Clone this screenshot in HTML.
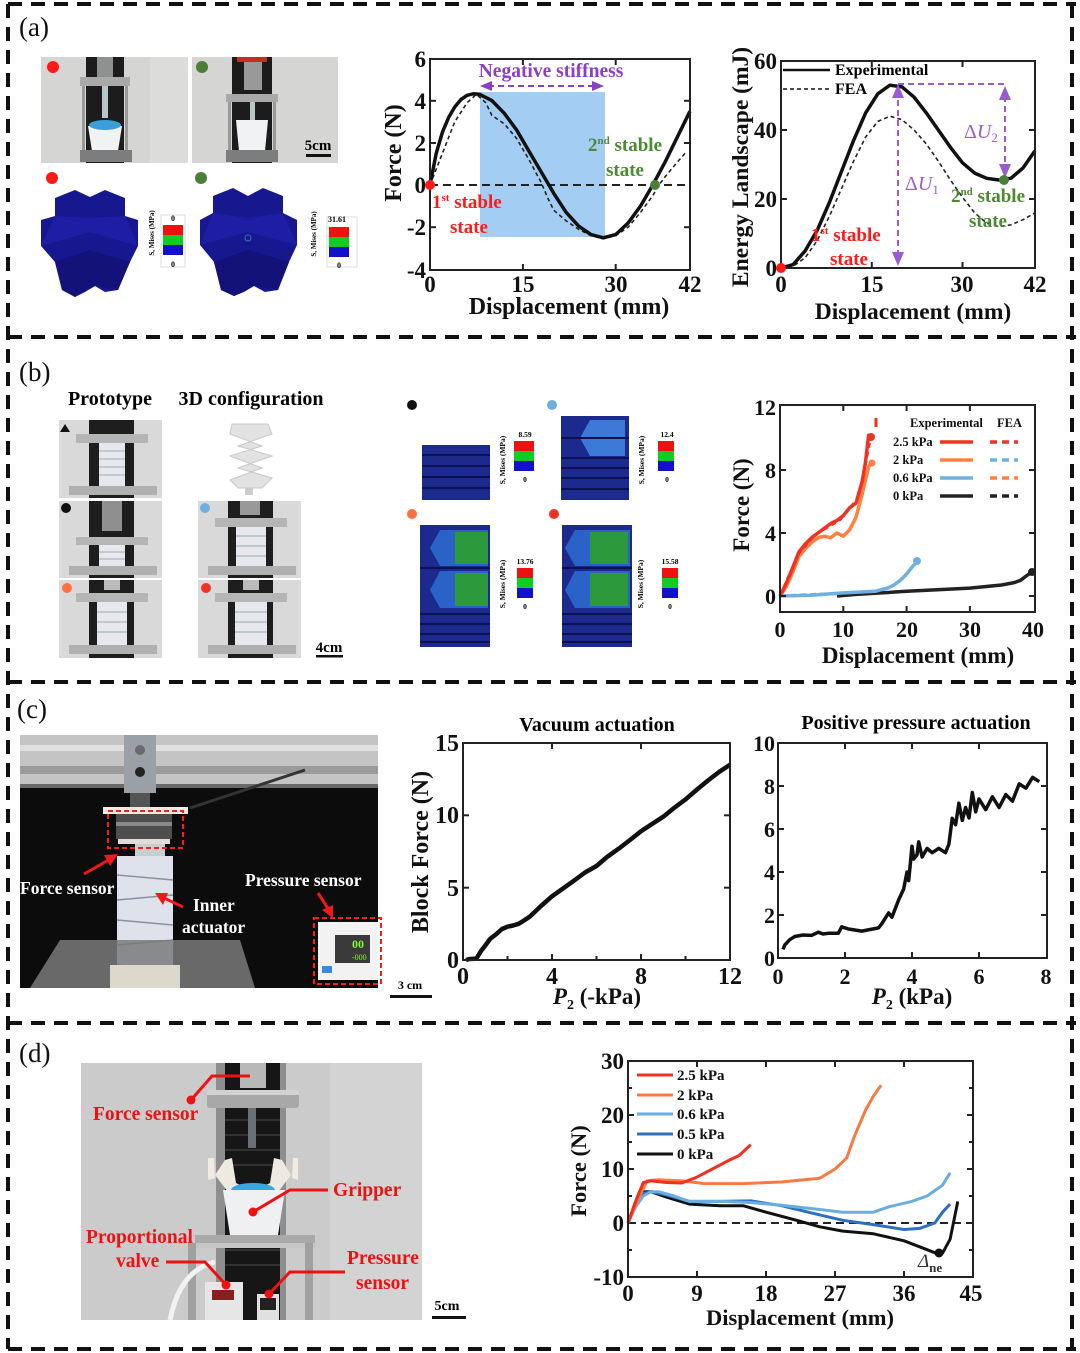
<!DOCTYPE html>
<html><head><meta charset="utf-8"><style>
html,body{margin:0;padding:0;background:#fff;}
svg{display:block;}
text{font-family:"Liberation Serif",serif;}
.b{font-weight:bold;}
</style></head><body>
<svg width="1080" height="1353" viewBox="0 0 1080 1353" xmlns="http://www.w3.org/2000/svg">
<rect width="1080" height="1353" fill="#fff"/>
<!-- dashed frame -->
<g stroke="#111" stroke-width="4" stroke-dasharray="14 9" fill="none">
<line x1="8" y1="4" x2="1076" y2="4"/>
<line x1="8" y1="337" x2="1076" y2="337"/>
<line x1="8" y1="682" x2="1076" y2="682"/>
<line x1="8" y1="1023" x2="1076" y2="1023"/>
<line x1="8" y1="1349" x2="1076" y2="1349"/>
<line x1="8" y1="4" x2="8" y2="1349"/>
<line x1="1072" y1="4" x2="1072" y2="1349"/>
</g>
<g font-size="27" fill="#111">
<text x="19" y="36">(a)</text>
<text x="19" y="381">(b)</text>
<text x="17" y="718">(c)</text>
<text x="19" y="1062">(d)</text>
</g>

<!-- ===== PANEL A photos ===== -->
<rect x="41" y="57" width="147" height="106" fill="#d5d5d3"/>
<rect x="150" y="57" width="38" height="106" fill="#dcdcda"/>
<rect x="86" y="57" width="38" height="106" fill="#1c1c1c"/>
<rect x="97" y="57" width="16" height="20" fill="#8f9090"/>
<rect x="80" y="77" width="50" height="9" fill="#a9a9a9"/>
<rect x="102" y="86" width="6" height="32" fill="#b8c4c8"/>
<polygon points="88,126 122,126 118,151 92,151" fill="#f0f2f4"/>
<ellipse cx="105" cy="125" rx="16" ry="5" fill="#3a9fd8"/>
<rect x="80" y="150" width="52" height="12" fill="#7d7d7d"/>
<rect x="82" y="86" width="3" height="64" fill="#999"/><rect x="125" y="86" width="3" height="64" fill="#999"/>
<circle cx="53" cy="67" r="6" fill="#ff1a1a"/>

<rect x="192" y="57" width="146" height="106" fill="#d5d5d3"/>
<rect x="232" y="57" width="40" height="106" fill="#1c1c1c"/>
<rect x="237" y="57" width="30" height="5" fill="#c03020"/>
<rect x="244" y="62" width="18" height="28" fill="#999"/>
<rect x="226" y="94" width="52" height="8" fill="#a9a9a9"/>
<rect x="250" y="102" width="5" height="18" fill="#b8c4c8"/>
<polygon points="236,120 268,120 265,151 239,151" fill="#f0f2f4"/>
<rect x="226" y="150" width="52" height="12" fill="#7d7d7d"/>
<rect x="228" y="102" width="3" height="48" fill="#999"/><rect x="273" y="102" width="3" height="48" fill="#999"/>
<circle cx="202" cy="67" r="6" fill="#4a7f38"/>
<text x="318" y="150" class="b" font-size="15" text-anchor="middle">5cm</text>
<rect x="306" y="154" width="25" height="3" fill="#111"/>

<circle cx="52" cy="178" r="6" fill="#ff1a1a"/>
<circle cx="201" cy="178" r="6" fill="#4a7f38"/>
<!-- 3D blue shapes -->
<polygon points="41,220 55,216 55,198 75,190 90,197 105,190 125,198 125,216 138,220 138,246 130,262 118,290 105,292 95,286 85,292 75,297 62,290 55,262 41,246" fill="#17178f"/>
<polygon points="55,216 90,218 125,216 138,246 90,232 41,246" fill="#1f1fa6" opacity="0.9"/>
<polygon points="55,262 90,250 130,262 118,290 95,286 75,297 62,290" fill="#121278"/>
<polygon points="200,220 213,213 213,196 233,188 248,196 263,188 283,196 283,213 297,220 297,245 289,262 278,290 265,292 254,286 244,292 234,296 221,290 214,262 200,245" fill="#17178f"/>
<polygon points="213,213 248,218 283,213 297,245 248,232 200,245" fill="#1f1fa6" opacity="0.9"/>
<polygon points="214,262 248,250 289,262 278,290 254,286 234,296 221,290" fill="#121278"/>
<circle cx="248" cy="238" r="3" fill="none" stroke="#2a7ab0" stroke-width="1"/>
<!-- colorbars a -->
<rect x="161" y="215" width="24" height="52" fill="none" stroke="#ddd" stroke-width="1"/>
<rect x="163" y="225" width="20" height="10" fill="#ee1111"/><rect x="163" y="235" width="20" height="10" fill="#11cc22"/><rect x="163" y="245" width="20" height="10" fill="#1111cc"/>
<text x="173" y="221" font-size="8" class="b" text-anchor="middle">0</text>
<text x="173" y="267" font-size="8" class="b" text-anchor="middle">0</text>
<text transform="translate(154,233) rotate(-90)" font-size="7" class="b" text-anchor="middle">S, Mises (MPa)</text>
<rect x="327" y="217" width="30" height="50" fill="none" stroke="#ddd" stroke-width="1"/>
<rect x="329" y="227" width="20" height="10" fill="#ee1111"/><rect x="329" y="237" width="20" height="10" fill="#11cc22"/><rect x="329" y="247" width="20" height="10" fill="#1111cc"/>
<text x="337" y="222" font-size="8" class="b" text-anchor="middle">31.61</text>
<text x="339" y="268" font-size="8" class="b" text-anchor="middle">0</text>
<text transform="translate(316,234) rotate(-90)" font-size="7" class="b" text-anchor="middle">S, Mises (MPa)</text>

<!-- ===== PANEL A force plot ===== -->
<rect x="480" y="92" width="125" height="145" fill="#a4cdf4"/>
<line x1="430" y1="185" x2="690" y2="185" stroke="#222" stroke-width="2" stroke-dasharray="8 5"/>
<polyline fill="none" stroke="#222" stroke-width="1.6" stroke-dasharray="4 3" points="430,185 442.4,153.4 454.8,121.7 467.1,102.7 476.4,94.3 485.7,102.7 491.9,115.4 504.3,123.8 516.7,138.6 529,159.7 541.4,182.9 547.6,197.7 553.8,210.3 566.2,220.9 578.6,229.3 591,235.6 603.3,238.8 615.7,235.6 628.1,227.2 640.5,212.4 652.8,195.6 659,185 665.2,176.6 677.6,161.8 686.9,151.2"/>
<polyline fill="none" stroke="#111" stroke-width="3.5" stroke-linejoin="round" points="430,185 436.2,153.4 442.4,132.2 448.6,117.5 454.8,106.9 461,99.5 467.1,95.3 473.3,93.8 479.5,94.3 491.9,100.6 504.3,113.3 516.7,130.1 529,151.2 541.4,172.3 553.8,193.4 566.2,212.4 578.6,226.1 591,234.6 603.3,237.8 615.7,234.6 628.1,223 640.5,206.1 652.8,185 665.2,161.8 677.6,136.5 690,111.2"/>
<rect x="430" y="59" width="260" height="211" fill="none" stroke="#222" stroke-width="2"/>
<g stroke="#222" stroke-width="2">
<line x1="430" y1="100.8" x2="436" y2="100.8"/><line x1="430" y1="143" x2="436" y2="143"/><line x1="430" y1="227.2" x2="436" y2="227.2"/>
<line x1="690" y1="100.8" x2="684" y2="100.8"/><line x1="690" y1="143" x2="684" y2="143"/><line x1="690" y1="227.2" x2="684" y2="227.2"/>
<line x1="522.9" y1="270" x2="522.9" y2="264"/><line x1="615.7" y1="270" x2="615.7" y2="264"/>
<line x1="522.9" y1="59" x2="522.9" y2="65"/><line x1="615.7" y1="59" x2="615.7" y2="65"/>
</g>
<circle cx="430" cy="185" r="5" fill="#ff1a1a"/>
<circle cx="655" cy="185" r="5" fill="#4a7f38"/>
<g class="b" font-size="23" fill="#111">
<text x="426" y="67" text-anchor="end">6</text><text x="426" y="109" text-anchor="end">4</text><text x="426" y="151" text-anchor="end">2</text><text x="426" y="193" text-anchor="end">0</text><text x="426" y="235" text-anchor="end">-2</text><text x="426" y="278" text-anchor="end">-4</text>
<text x="430" y="292" text-anchor="middle">0</text><text x="523" y="292" text-anchor="middle">15</text><text x="616" y="292" text-anchor="middle">30</text><text x="690" y="292" text-anchor="middle">42</text>
</g>
<g class="b" font-size="24" fill="#111">
<text x="569" y="314" text-anchor="middle">Displacement (mm)</text>
<text transform="translate(401,153) rotate(-90)" text-anchor="middle">Force (N)</text>
</g>
<text x="551" y="77" class="b" font-size="19.5" fill="#8b3fc4" text-anchor="middle">Negative stiffness</text>
<line x1="488" y1="86" x2="596" y2="86" stroke="#8b3fc4" stroke-width="2" stroke-dasharray="6 4"/>
<polygon points="480,86 492,81 492,91" fill="#8b3fc4"/><polygon points="604,86 592,81 592,91" fill="#8b3fc4"/>
<g class="b" font-size="19" fill="#ff1a1a">
<text x="432" y="208">1<tspan dy="-7" font-size="11">st</tspan><tspan dy="7"> stable</tspan></text>
<text x="450" y="233">state</text>
</g>
<g class="b" font-size="19" fill="#4a8a30">
<text x="588" y="151">2<tspan dy="-7" font-size="11">nd</tspan><tspan dy="7"> stable</tspan></text>
<text x="606" y="176">state</text>
</g>

<!-- ===== PANEL A energy plot ===== -->
<polyline fill="none" stroke="#222" stroke-width="1.6" stroke-dasharray="4 3" points="781,268 793.1,266.3 805.2,257.7 817.3,240.4 829.4,216.3 841.5,188.7 853.6,161.1 865.7,136.9 877.8,121.4 889.9,116.2 902,119.7 914.1,130 926.2,143.8 938.3,161.1 950.4,180 962.5,197.3 974.6,212.8 986.7,223.2 998.8,226.6 1010.9,224.9 1023,219.7 1035,212.8"/>
<polyline fill="none" stroke="#111" stroke-width="3.5" stroke-linejoin="round" points="781,268 793.1,264.6 805.2,250.8 817.3,230.1 829.4,202.5 841.5,171.4 853.6,140.4 865.7,112.8 877.8,93.8 889.9,85.2 902,86.9 914.1,97.2 926.2,112.8 938.3,130 950.4,147.3 962.5,162.8 974.6,173.1 986.7,178.3 998.8,180 1010.9,178.3 1023,168 1035,150.7"/>
<rect x="781" y="61" width="254" height="207" fill="none" stroke="#222" stroke-width="2"/>
<g stroke="#222" stroke-width="2">
<line x1="781" y1="130" x2="787" y2="130"/><line x1="781" y1="199" x2="787" y2="199"/><line x1="1035" y1="130" x2="1029" y2="130"/><line x1="1035" y1="199" x2="1029" y2="199"/>
<line x1="871.8" y1="268" x2="871.8" y2="262"/><line x1="962.5" y1="268" x2="962.5" y2="262"/><line x1="871.8" y1="61" x2="871.8" y2="67"/><line x1="962.5" y1="61" x2="962.5" y2="67"/>
</g>
<line x1="783" y1="70" x2="830" y2="70" stroke="#111" stroke-width="2.5"/>
<line x1="783" y1="89" x2="830" y2="89" stroke="#111" stroke-width="1.6" stroke-dasharray="4 3"/>
<text x="835" y="75" class="b" font-size="16">Experimental</text>
<text x="835" y="94" class="b" font-size="16">FEA</text>
<g stroke="#9a5bd0" stroke-width="2" stroke-dasharray="6 4" fill="none">
<line x1="898" y1="90" x2="898" y2="255"/>
<line x1="898" y1="84" x2="1005" y2="84"/>
<line x1="1005" y1="96" x2="1005" y2="168"/>
</g>
<g fill="#9a5bd0">
<polygon points="898,84 892,98 904,98"/><polygon points="898,266 892,252 904,252"/>
<polygon points="1005,86 999,100 1011,100"/><polygon points="1005,178 999,164 1011,164"/>
</g>
<text x="905" y="190" font-size="20" fill="#9a5bd0">Δ<tspan font-style="italic">U</tspan><tspan font-size="13" dy="4">1</tspan></text>
<text x="964" y="138" font-size="20" fill="#9a5bd0">Δ<tspan font-style="italic">U</tspan><tspan font-size="13" dy="4">2</tspan></text>
<circle cx="781" cy="268" r="5" fill="#ff1a1a"/>
<circle cx="1004" cy="180" r="5" fill="#4a7f38"/>
<g class="b" font-size="19" fill="#ff1a1a">
<text x="811" y="241">1<tspan dy="-7" font-size="11">st</tspan><tspan dy="7"> stable</tspan></text>
<text x="830" y="265">state</text>
</g>
<g class="b" font-size="19" fill="#4a8a30">
<text x="951" y="202">2<tspan dy="-7" font-size="11">nd</tspan><tspan dy="7"> stable</tspan></text>
<text x="969" y="227">state</text>
</g>
<g class="b" font-size="23" fill="#111">
<text x="777" y="69" text-anchor="end">60</text><text x="777" y="138" text-anchor="end">40</text><text x="777" y="207" text-anchor="end">20</text><text x="777" y="276" text-anchor="end">0</text>
<text x="781" y="292" text-anchor="middle">0</text><text x="872" y="292" text-anchor="middle">15</text><text x="962" y="292" text-anchor="middle">30</text><text x="1035" y="292" text-anchor="middle">42</text>
</g>
<g class="b" font-size="23.5" fill="#111">
<text x="913" y="319" text-anchor="middle">Displacement (mm)</text>
<text transform="translate(748,167) rotate(-90)" text-anchor="middle">Energy Landscape (mJ)</text>
</g>

<!-- ===== PANEL B left photos ===== -->
<text x="110" y="405" class="b" font-size="20" text-anchor="middle">Prototype</text>
<text x="251" y="405" class="b" font-size="20" text-anchor="middle">3D configuration</text>
<g>
<rect x="59" y="420" width="103" height="78" fill="#d9d9d9"/>
<rect x="89" y="420" width="45" height="78" fill="#1e1e1e"/>
<rect x="76" y="434" width="72" height="9" fill="#b5b5b5"/>
<rect x="99" y="443" width="26" height="43" fill="#e6e8ee"/>
<g stroke="#9aa" stroke-width="1"><line x1="99" y1="451" x2="125" y2="451"/><line x1="99" y1="459" x2="125" y2="459"/><line x1="99" y1="467" x2="125" y2="467"/><line x1="99" y1="475" x2="125" y2="475"/></g>
<rect x="69" y="486" width="88" height="9" fill="#b0b0b0"/>
<polygon points="60,432 65,424 70,432" fill="#111"/>
</g>
<g>
<rect x="59" y="501" width="103" height="77" fill="#d9d9d9"/>
<rect x="89" y="501" width="45" height="77" fill="#1e1e1e"/>
<rect x="102" y="501" width="20" height="30" fill="#8f8f8f"/>
<rect x="76" y="537" width="72" height="8" fill="#b5b5b5"/>
<rect x="99" y="545" width="26" height="21" fill="#e6e8ee"/>
<g stroke="#9aa" stroke-width="1"><line x1="99" y1="552" x2="125" y2="552"/><line x1="99" y1="559" x2="125" y2="559"/></g>
<rect x="69" y="566" width="88" height="9" fill="#b0b0b0"/>
<circle cx="66" cy="508" r="5" fill="#111"/>
</g>
<g>
<rect x="59" y="580" width="103" height="78" fill="#d9d9d9"/>
<rect x="89" y="580" width="45" height="78" fill="#1e1e1e"/>
<rect x="104" y="580" width="16" height="10" fill="#bbb"/>
<rect x="76" y="593" width="72" height="9" fill="#b5b5b5"/>
<rect x="97" y="602" width="30" height="43" fill="#e6e8ee"/>
<g stroke="#9aa" stroke-width="1"><line x1="97" y1="612" x2="127" y2="612"/><line x1="97" y1="622" x2="127" y2="622"/><line x1="97" y1="632" x2="127" y2="632"/></g>
<rect x="69" y="645" width="88" height="9" fill="#b0b0b0"/>
<circle cx="67" cy="588" r="5" fill="#ff7040"/>
</g>
<polygon points="232,424 268,424 272,434 238,446 272,456 238,468 272,478 262,488 238,488 230,480 262,468 230,456 262,446 230,434" fill="#e2e2e2" stroke="#c8c8c8" stroke-width="1"/>
<rect x="245" y="488" width="8" height="7" fill="#ccc"/>
<g>
<rect x="198" y="501" width="103" height="77" fill="#d9d9d9"/>
<rect x="228" y="501" width="45" height="77" fill="#1e1e1e"/>
<rect x="240" y="501" width="20" height="14" fill="#999"/>
<rect x="215" y="518" width="72" height="9" fill="#b5b5b5"/>
<rect x="236" y="527" width="30" height="39" fill="#e6e8ee"/>
<g stroke="#9aa" stroke-width="1"><line x1="236" y1="536" x2="266" y2="536"/><line x1="236" y1="546" x2="266" y2="546"/><line x1="236" y1="556" x2="266" y2="556"/></g>
<rect x="208" y="566" width="88" height="9" fill="#b0b0b0"/>
<circle cx="205" cy="508" r="5" fill="#6fb0e0"/>
</g>
<g>
<rect x="198" y="580" width="103" height="78" fill="#d9d9d9"/>
<rect x="228" y="580" width="45" height="78" fill="#1e1e1e"/>
<rect x="243" y="580" width="16" height="10" fill="#bbb"/>
<rect x="215" y="593" width="72" height="9" fill="#b5b5b5"/>
<rect x="235" y="602" width="32" height="43" fill="#e6e8ee"/>
<g stroke="#9aa" stroke-width="1"><line x1="235" y1="612" x2="267" y2="612"/><line x1="235" y1="622" x2="267" y2="622"/><line x1="235" y1="632" x2="267" y2="632"/></g>
<rect x="208" y="645" width="88" height="9" fill="#b0b0b0"/>
<circle cx="206" cy="588" r="5" fill="#ee3322"/>
</g>
<text x="329" y="652" class="b" font-size="15" text-anchor="middle">4cm</text>
<rect x="316" y="655" width="27" height="2.5" fill="#111"/>

<!-- ===== PANEL B FEA images ===== -->
<circle cx="412" cy="405" r="5" fill="#111"/>
<circle cx="552" cy="405" r="5" fill="#6fb0e0"/>
<circle cx="412" cy="514" r="5" fill="#ff7040"/>
<circle cx="554" cy="514" r="5" fill="#ee3322"/>
<rect x="422" y="445" width="68" height="55" fill="#1b2a8c"/>
<g stroke="#0a1050" stroke-width="2"><line x1="422" y1="455" x2="490" y2="455"/><line x1="422" y1="466" x2="490" y2="466"/><line x1="422" y1="477" x2="490" y2="477"/><line x1="422" y1="488" x2="490" y2="488"/></g>
<rect x="561" y="416" width="68" height="84" fill="#1b2a8c"/>
<polygon points="590,420 625,420 625,456 590,456 580,438" fill="#3d7ad8"/>
<rect x="561" y="437" width="68" height="2" fill="#0a1050"/>
<g stroke="#0a1050" stroke-width="2"><line x1="561" y1="458" x2="629" y2="458"/><line x1="561" y1="468" x2="629" y2="468"/><line x1="561" y1="478" x2="629" y2="478"/><line x1="561" y1="489" x2="629" y2="489"/></g>
<g>
<rect x="420" y="525" width="70" height="122" fill="#1b2a8c"/>
<polygon points="440,530 488,530 488,566 440,566 430,548" fill="#2a62c8"/>
<polygon points="455,532 488,532 488,564 455,564" fill="#2c9a3c"/>
<polygon points="440,571 488,571 488,608 440,608 430,590" fill="#2a62c8"/>
<polygon points="455,573 488,573 488,606 455,606" fill="#2c9a3c"/>
<rect x="420" y="567" width="70" height="2" fill="#0a1050"/>
<g stroke="#0a1050" stroke-width="2"><line x1="420" y1="614" x2="490" y2="614"/><line x1="420" y1="624" x2="490" y2="624"/><line x1="420" y1="634" x2="490" y2="634"/><line x1="420" y1="642" x2="490" y2="642"/></g>
</g>
<g>
<rect x="562" y="525" width="70" height="122" fill="#1b2a8c"/>
<polygon points="575,530 630,530 630,566 575,566 565,548" fill="#2a62c8"/>
<polygon points="590,532 628,532 628,564 590,564" fill="#2c9a3c"/>
<polygon points="575,571 630,571 630,608 575,608 565,590" fill="#2a62c8"/>
<polygon points="590,573 628,573 628,606 590,606" fill="#2c9a3c"/>
<rect x="562" y="567" width="70" height="2" fill="#0a1050"/>
<g stroke="#0a1050" stroke-width="2"><line x1="562" y1="614" x2="632" y2="614"/><line x1="562" y1="624" x2="632" y2="624"/><line x1="562" y1="634" x2="632" y2="634"/><line x1="562" y1="642" x2="632" y2="642"/></g>
</g>
<g>
<rect x="514" y="441" width="20" height="10" fill="#ee1111"/><rect x="514" y="451" width="20" height="10" fill="#11cc22"/><rect x="514" y="461" width="20" height="10" fill="#1111cc"/>
<rect x="658" y="441" width="16" height="10" fill="#ee1111"/><rect x="658" y="451" width="16" height="10" fill="#11cc22"/><rect x="658" y="461" width="16" height="10" fill="#1111cc"/>
<rect x="517" y="568" width="16" height="10" fill="#ee1111"/><rect x="517" y="578" width="16" height="10" fill="#11cc22"/><rect x="517" y="588" width="16" height="10" fill="#1111cc"/>
<rect x="662" y="568" width="16" height="10" fill="#ee1111"/><rect x="662" y="578" width="16" height="10" fill="#11cc22"/><rect x="662" y="588" width="16" height="10" fill="#1111cc"/>
</g>
<g class="b" font-size="7.5" text-anchor="middle">
<text x="525" y="437">8.59</text><text x="525" y="482">0</text>
<text x="667" y="437">12.4</text><text x="667" y="482">0</text>
<text x="525" y="564">13.76</text><text x="525" y="609">0</text>
<text x="670" y="564">15.58</text><text x="670" y="609">0</text>
<text transform="translate(505,460) rotate(-90)">S, Mises (MPa)</text>
<text transform="translate(644,460) rotate(-90)">S, Mises (MPa)</text>
<text transform="translate(505,584) rotate(-90)">S, Mises (MPa)</text>
<text transform="translate(643,584) rotate(-90)">S, Mises (MPa)</text>
</g>

<!-- ===== PANEL B plot ===== -->
<polyline fill="none" stroke="#6fb0e0" stroke-width="3" stroke-dasharray="6 4" points="780,596 811.7,594.5 843.3,593"/>
<polyline fill="none" stroke="#222" stroke-width="3.5" stroke-linejoin="round" points="837,596 856,594.4 906.6,591.3 969.9,588.1 1001.6,585 1014.2,582.6 1020.5,580.3 1026.9,575.5 1031.3,572.4"/>
<polyline fill="none" stroke="#6fb0e0" stroke-width="3.5" stroke-linejoin="round" points="780,596 811.7,595.2 843.3,592.9 875,591.3 887.6,588.1 894,585 900.3,580.3 906.6,574 912.9,566.1 917.4,561.4"/>
<polyline fill="none" stroke="#ff8040" stroke-width="3.5" stroke-linejoin="round" points="780,596 786.3,586.6 792.7,572.4 799,556.6 805.3,548.8 811.7,542.5 818,537.7 824.3,536.2 830.6,537.7 837,533 843.3,536.2 849.6,529.9 856,517.3 862.3,493.6 868.6,466.9 871.8,462.1"/>
<polyline fill="none" stroke="#ee3322" stroke-width="3.5" stroke-linejoin="round" points="780,596 786.3,583.4 792.7,567.7 799,551.9 805.3,544 811.7,537.7 818,533 824.3,528.3 830.6,523.6 837,520.4 843.3,515.7 849.6,507.8 856,503.1 862.3,481 865.5,462.1 868.6,435.4 871.8,437"/>
<polyline fill="none" stroke="#ee3322" stroke-width="2.5" stroke-dasharray="5 4" points="780,596 789,575 800,552 815,535 840,520 858,498 866,462 871,436"/>
<line x1="876" y1="418" x2="876" y2="427" stroke="#ee3322" stroke-width="3"/>
<circle cx="871" cy="437" r="4" fill="#ee3322"/><circle cx="872" cy="463" r="3.5" fill="#ff8040"/><circle cx="917" cy="561" r="4" fill="#6fb0e0"/><circle cx="1032" cy="572" r="4" fill="#222"/>
<rect x="780" y="405" width="255" height="207" fill="none" stroke="#222" stroke-width="2"/>
<g stroke="#222" stroke-width="2">
<line x1="780" y1="470" x2="786" y2="470"/><line x1="780" y1="533" x2="786" y2="533"/><line x1="780" y1="596" x2="786" y2="596"/>
<line x1="1035" y1="470" x2="1029" y2="470"/><line x1="1035" y1="533" x2="1029" y2="533"/><line x1="1035" y1="596" x2="1029" y2="596"/>
<line x1="843.3" y1="612" x2="843.3" y2="606"/><line x1="906.6" y1="612" x2="906.6" y2="606"/><line x1="969.9" y1="612" x2="969.9" y2="606"/>
<line x1="843.3" y1="405" x2="843.3" y2="411"/><line x1="906.6" y1="405" x2="906.6" y2="411"/><line x1="969.9" y1="405" x2="969.9" y2="411"/>
</g>
<g class="b" font-size="12.5" fill="#111">
<text x="910" y="427">Experimental</text><text x="997" y="427">FEA</text>
<text x="893" y="446">2.5 kPa</text><text x="893" y="464">2 kPa</text><text x="893" y="482">0.6 kPa</text><text x="893" y="500">0 kPa</text>
</g>
<g stroke-width="3.5">
<line x1="940" y1="442" x2="973" y2="442" stroke="#ee3322"/>
<line x1="940" y1="460" x2="973" y2="460" stroke="#ff8040"/>
<line x1="940" y1="478" x2="973" y2="478" stroke="#6fb0e0"/>
<line x1="940" y1="496" x2="973" y2="496" stroke="#222"/>
<line x1="990" y1="442" x2="1018" y2="442" stroke="#ee3322" stroke-dasharray="7 5"/>
<line x1="990" y1="460" x2="1018" y2="460" stroke="#6fb0e0" stroke-dasharray="7 5"/>
<line x1="990" y1="478" x2="1018" y2="478" stroke="#ff8040" stroke-dasharray="7 5"/>
<line x1="990" y1="496" x2="1018" y2="496" stroke="#222" stroke-dasharray="7 5"/>
</g>
<g class="b" font-size="22" fill="#111">
<text x="776" y="415" text-anchor="end">12</text><text x="776" y="478" text-anchor="end">8</text><text x="776" y="541" text-anchor="end">4</text><text x="776" y="604" text-anchor="end">0</text>
<text x="780" y="637" text-anchor="middle">0</text><text x="843" y="637" text-anchor="middle">10</text><text x="907" y="637" text-anchor="middle">20</text><text x="970" y="637" text-anchor="middle">30</text><text x="1033" y="637" text-anchor="middle">40</text>
</g>
<g class="b" font-size="23" fill="#111">
<text x="918" y="663" text-anchor="middle">Displacement (mm)</text>
<text transform="translate(749,505) rotate(-90)" text-anchor="middle">Force (N)</text>
</g>

<!-- ===== PANEL C photo ===== -->
<rect x="20" y="735" width="358" height="253" fill="#0c0c0c"/>
<rect x="20" y="735" width="358" height="52" fill="#c4c4c4"/>
<rect x="20" y="745" width="358" height="6" fill="#e0e0e0"/>
<rect x="20" y="766" width="358" height="8" fill="#9a9a9a"/>
<rect x="20" y="784" width="358" height="4" fill="#6a6a6a"/>
<line x1="190" y1="808" x2="305" y2="770" stroke="#333" stroke-width="3"/>
<rect x="124" y="735" width="32" height="58" fill="#9aa0a6"/>
<circle cx="140" cy="750" r="5" fill="#6a6a6a"/><circle cx="140" cy="772" r="5" fill="#222"/>
<rect x="130" y="793" width="20" height="14" fill="#555"/>
<rect x="103" y="807" width="85" height="7" fill="#eeeae0"/>
<rect x="116" y="814" width="56" height="25" fill="#4e4e4e"/>
<rect x="116" y="822" width="56" height="4" fill="#888"/>
<rect x="118" y="839" width="52" height="5" fill="#ddd"/>
<rect x="135" y="844" width="30" height="12" fill="#ccc"/>
<rect x="117" y="856" width="56" height="132" fill="#dfe2ea"/>
<g stroke="#8a90a0" stroke-width="1.5"><line x1="117" y1="875" x2="173" y2="880"/><line x1="117" y1="900" x2="173" y2="895"/><line x1="117" y1="920" x2="173" y2="925"/><line x1="117" y1="945" x2="173" y2="940"/><line x1="117" y1="965" x2="173" y2="970"/></g>
<polygon points="60,940 240,940 255,988 30,988" fill="#7a7a7a" opacity="0.85"/>
<rect x="110" y="965" width="70" height="23" fill="#dcd8cc"/>
<rect x="318" y="922" width="60" height="58" fill="#f2f2f2"/>
<rect x="335" y="935" width="35" height="28" fill="#3a3a3a"/>
<text x="352" y="948" font-family="Liberation Mono,monospace" font-size="12" fill="#7cfc30" class="b">00</text>
<text x="352" y="960" font-family="Liberation Mono,monospace" font-size="8" fill="#7cfc30">-000</text>
<rect x="322" y="966" width="10" height="7" fill="#3a8ad8"/>
<g fill="none" stroke="#ff1a1a" stroke-width="2" stroke-dasharray="5 3">
<rect x="108" y="811" width="75" height="37"/>
<rect x="314" y="918" width="67" height="66"/>
</g>
<g stroke="#ee1a1a" stroke-width="3" fill="#ee1a1a">
<line x1="84" y1="874" x2="112" y2="858"/><polygon points="118,854 104,855 110,866" stroke="none"/>
<line x1="183" y1="907" x2="162" y2="897"/><polygon points="155,893 163,905 168,893" stroke="none"/>
<line x1="318" y1="893" x2="329" y2="910"/><polygon points="333,918 322,910 333,905" stroke="none"/>
</g>
<g class="b" font-size="17.5" fill="#fff">
<text x="20" y="894">Force sensor</text>
<text x="193" y="911">Inner</text>
<text x="182" y="933">actuator</text>
<text x="245" y="886">Pressure sensor</text>
</g>
<text x="410" y="989" class="b" font-size="12" text-anchor="middle">3 cm</text>
<rect x="390" y="995" width="42" height="3" fill="#111"/>

<!-- ===== PANEL C plots ===== -->
<text x="597" y="731" class="b" font-size="20" text-anchor="middle">Vacuum actuation</text>
<polyline fill="none" stroke="#111" stroke-width="4.5" stroke-linejoin="round" points="466,960 469.7,959 476.4,958.6 481,951 485.3,945.5 490,939 496.4,934 502,929 507.5,926.7 513,925.5 518.6,923.8 524,920.5 529.8,916.6 541,906 552,896.3 563,888.5 574.3,880.4 585,872.5 596.5,866 607,857 618.8,848.6 630,840 641,831.2 652,824 663.3,816.7 674,808 685.5,799.4 697,789.5 707.8,780.6 719,772 730,764.7"/>
<rect x="463" y="743" width="267" height="217" fill="none" stroke="#222" stroke-width="2"/>
<g stroke="#222" stroke-width="2">
<line x1="463" y1="815.3" x2="469" y2="815.3"/><line x1="463" y1="887.7" x2="469" y2="887.7"/><line x1="730" y1="815.3" x2="724" y2="815.3"/><line x1="730" y1="887.7" x2="724" y2="887.7"/>
<line x1="552" y1="960" x2="552" y2="954"/><line x1="641" y1="960" x2="641" y2="954"/><line x1="552" y1="743" x2="552" y2="749"/><line x1="641" y1="743" x2="641" y2="749"/>
<line x1="507.5" y1="960" x2="507.5" y2="956"/><line x1="596.5" y1="960" x2="596.5" y2="956"/><line x1="685.5" y1="960" x2="685.5" y2="956"/>
</g>
<g class="b" font-size="24" fill="#111">
<text x="459" y="751" text-anchor="end">15</text><text x="459" y="823" text-anchor="end">10</text><text x="459" y="896" text-anchor="end">5</text><text x="459" y="968" text-anchor="end">0</text>
<text x="463" y="984" text-anchor="middle">0</text><text x="552" y="984" text-anchor="middle">4</text><text x="641" y="984" text-anchor="middle">8</text><text x="730" y="984" text-anchor="middle">12</text>
<text transform="translate(428,852) rotate(-90)" text-anchor="middle">Block Force (N)</text>
<text x="597" y="1004" text-anchor="middle" font-size="23"><tspan font-style="italic">P</tspan><tspan font-size="14" dy="5">2</tspan><tspan dy="-5"> (-kPa)</tspan></text>
</g>
<text x="916" y="729" class="b" font-size="20" text-anchor="middle">Positive pressure  actuation</text>
<polyline fill="none" stroke="#111" stroke-width="3.5" stroke-linejoin="round" points="783,949.4 784.7,945.1 789.7,939.7 794.8,936.5 803,935 811.5,935.4 818.2,932.2 823,934 828.3,933.3 838.3,933.3 841.7,926.8 848.4,929 861.8,931.1 878.5,927.9 881.9,923.6 888.6,912.9 891.9,917.2 898.6,900 903.6,889.2 907,872 908.7,880.6 912,846.2 913.7,859.1 917,854.8 918.7,841.9 922.1,857 927.1,848.4 932.1,852.7 938.8,848.4 945.5,852.7 948.9,844.1 952.2,818.3 955.6,824.7 958.9,803.2 962.3,820.4 965.6,807.5 969,818 972.3,792.5 975.7,811.8 979,798.9 985.7,809.7 992.4,796.8 999.1,807.5 1005.8,794.6 1012.5,801.1 1019.2,783.9 1025.9,788.2 1032.6,777.4 1039.3,781.7"/>
<rect x="778" y="743" width="269" height="215" fill="none" stroke="#222" stroke-width="2"/>
<g stroke="#222" stroke-width="2">
<line x1="778" y1="786" x2="784" y2="786"/><line x1="778" y1="829" x2="784" y2="829"/><line x1="778" y1="872" x2="784" y2="872"/><line x1="778" y1="915" x2="784" y2="915"/>
<line x1="1047" y1="786" x2="1041" y2="786"/><line x1="1047" y1="829" x2="1041" y2="829"/><line x1="1047" y1="872" x2="1041" y2="872"/><line x1="1047" y1="915" x2="1041" y2="915"/>
<line x1="845" y1="958" x2="845" y2="952"/><line x1="912" y1="958" x2="912" y2="952"/><line x1="979" y1="958" x2="979" y2="952"/>
<line x1="845" y1="743" x2="845" y2="749"/><line x1="912" y1="743" x2="912" y2="749"/><line x1="979" y1="743" x2="979" y2="749"/>
</g>
<g class="b" font-size="22" fill="#111">
<text x="775" y="751" text-anchor="end">10</text><text x="775" y="794" text-anchor="end">8</text><text x="775" y="837" text-anchor="end">6</text><text x="775" y="880" text-anchor="end">4</text><text x="775" y="923" text-anchor="end">2</text><text x="775" y="966" text-anchor="end">0</text>
<text x="778" y="984" text-anchor="middle">0</text><text x="845" y="984" text-anchor="middle">2</text><text x="912" y="984" text-anchor="middle">4</text><text x="979" y="984" text-anchor="middle">6</text><text x="1046" y="984" text-anchor="middle">8</text>
<text x="912" y="1004" text-anchor="middle" font-size="23"><tspan font-style="italic">P</tspan><tspan font-size="14" dy="5">2</tspan><tspan dy="-5"> (kPa)</tspan></text>
</g>

<!-- ===== PANEL D photo ===== -->
<rect x="81" y="1063" width="341" height="257" fill="#cbcbcb"/>
<rect x="330" y="1063" width="92" height="257" fill="#d3d3d3"/>
<rect x="216" y="1063" width="70" height="257" fill="#8e8e8e"/>
<rect x="225" y="1063" width="55" height="257" fill="#161616"/>
<g stroke="#3a3a3a" stroke-width="1.5"><line x1="225" y1="1120" x2="280" y2="1120"/><line x1="225" y1="1135" x2="280" y2="1135"/><line x1="225" y1="1150" x2="280" y2="1150"/><line x1="225" y1="1165" x2="280" y2="1165"/><line x1="225" y1="1250" x2="280" y2="1250"/><line x1="225" y1="1265" x2="280" y2="1265"/></g>
<rect x="240" y="1063" width="26" height="25" fill="#b8b8b8"/>
<rect x="207" y="1090" width="92" height="18" rx="3" fill="#a8a8a8"/>
<rect x="207" y="1090" width="92" height="5" fill="#d2d2d2"/>
<rect x="248" y="1108" width="8" height="40" fill="#6a7078"/>
<polygon points="225,1160 232,1158 236,1183 250,1190 228,1192 215,1175" fill="#eeeae2"/>
<polygon points="282,1160 274,1158 270,1183 256,1190 278,1192 291,1175" fill="#eeeae2"/>
<polygon points="208,1158 214,1158 215,1178 208,1180" fill="#f0ece4"/><polygon points="298,1158 293,1158 292,1178 298,1180" fill="#f0ece4"/>
<ellipse cx="253" cy="1190" rx="22" ry="7" fill="#3aa6e0"/>
<polygon points="223,1190 285,1190 278,1235 230,1235" fill="#eef0f2"/>
<rect x="195" y="1235" width="120" height="8" fill="#a9a9a9"/>
<rect x="195" y="1243" width="120" height="5" fill="#c5c5c5"/>
<rect x="188" y="1243" width="8" height="77" fill="#a0a0a0"/><rect x="305" y="1243" width="8" height="77" fill="#a0a0a0"/>
<path d="M170 1320 Q 180 1270 215 1262" stroke="#f2f2f2" stroke-width="5" fill="none"/>
<rect x="205" y="1282" width="38" height="38" fill="#e6e6e6"/>
<rect x="212" y="1290" width="22" height="10" fill="#8a1e1e"/>
<rect x="257" y="1294" width="22" height="26" fill="#e0e0e0"/>
<rect x="260" y="1298" width="16" height="12" fill="#222"/>
<g stroke="#ee1111" stroke-width="3" fill="none">
<polyline points="191,1100 212,1076 250,1076"/>
<polyline points="253,1212 290,1190 328,1190"/>
<polyline points="166,1262 205,1262 226,1285"/>
<polyline points="269,1294 290,1272 345,1272"/>
</g>
<g fill="#ee1111"><circle cx="191" cy="1100" r="4.5"/><circle cx="253" cy="1212" r="4.5"/><circle cx="226" cy="1285" r="4.5"/><circle cx="269" cy="1294" r="4.5"/></g>
<g class="b" font-size="19.5" fill="#ee1111">
<text x="93" y="1120">Force sensor</text>
<text x="333" y="1196">Gripper</text>
<text x="86" y="1243">Proportional</text>
<text x="116" y="1267">valve</text>
<text x="347" y="1264">Pressure</text>
<text x="356" y="1289">sensor</text>
</g>
<text x="447" y="1310" class="b" font-size="14" text-anchor="middle">5cm</text>
<rect x="432" y="1316" width="34" height="3" fill="#111"/>

<!-- ===== PANEL D plot ===== -->
<line x1="628" y1="1223" x2="973" y2="1223" stroke="#222" stroke-width="2" stroke-dasharray="8 5"/>
<polyline fill="none" stroke="#111" stroke-width="3" stroke-linejoin="round" points="628,1223 635.7,1201.4 639.5,1191.7 651,1191.7 666.4,1197.1 689.4,1204.1 720,1205.7 743.1,1205.7 766.1,1212.2 796.7,1220.3 819.8,1226.8 842.8,1231.1 873.4,1233.8 904.1,1240.8 934.8,1252.7 942.5,1253.2 950.1,1239.2 957.8,1201.4"/>
<polyline fill="none" stroke="#2f6ec0" stroke-width="3" stroke-linejoin="round" points="628,1223 635.7,1204.1 643.3,1193.3 651,1191.7 666.4,1194.9 689.4,1201.4 720,1201.4 750.7,1200.9 781.4,1205.7 819.8,1214.9 842.8,1220.3 873.4,1224.6 904.1,1229.5 919.5,1228.4 934.8,1223 942.5,1212.2 950.1,1204.1"/>
<polyline fill="none" stroke="#6aaee0" stroke-width="3" stroke-linejoin="round" points="628,1223 635.7,1206.8 643.3,1196 651,1191.7 658.7,1191.7 674,1196 689.4,1201.4 720,1201.4 750.7,1202.5 781.4,1205.2 819.8,1209.5 842.8,1212.2 873.4,1212.2 888.8,1206.8 911.8,1201.4 927.1,1196 942.5,1185.2 950.1,1172.8"/>
<polyline fill="none" stroke="#f77a45" stroke-width="3" stroke-linejoin="round" points="628,1223 639.5,1196 647.2,1180.9 658.7,1179.8 681.7,1180.9 704.7,1183.6 743.1,1183.6 781.4,1182 819.8,1178.2 835.1,1169 846.6,1158.2 854.3,1136.6 865.8,1109.6 873.4,1096.1 881.1,1085.3"/>
<polyline fill="none" stroke="#f03020" stroke-width="3" stroke-linejoin="round" points="628,1223 635.7,1201.4 643.3,1182.5 651,1180.9 666.4,1182.5 681.7,1183 697,1177.1 712.4,1169 727.7,1160.9 739.2,1155.5 750.7,1144.7"/>
<circle cx="939" cy="1253" r="4.5" fill="#111"/>
<rect x="628" y="1061" width="345" height="216" fill="none" stroke="#222" stroke-width="2"/>
<g stroke="#222" stroke-width="2">
<line x1="628" y1="1088" x2="632" y2="1088"/><line x1="628" y1="1115" x2="634" y2="1115"/><line x1="628" y1="1142" x2="632" y2="1142"/><line x1="628" y1="1169" x2="634" y2="1169"/><line x1="628" y1="1196" x2="632" y2="1196"/><line x1="628" y1="1250" x2="632" y2="1250"/>
<line x1="973" y1="1088" x2="969" y2="1088"/><line x1="973" y1="1115" x2="967" y2="1115"/><line x1="973" y1="1142" x2="969" y2="1142"/><line x1="973" y1="1169" x2="967" y2="1169"/><line x1="973" y1="1196" x2="969" y2="1196"/><line x1="973" y1="1223" x2="967" y2="1223"/><line x1="973" y1="1250" x2="969" y2="1250"/>
<line x1="697" y1="1277" x2="697" y2="1271"/><line x1="766" y1="1277" x2="766" y2="1271"/><line x1="835" y1="1277" x2="835" y2="1271"/><line x1="904" y1="1277" x2="904" y2="1271"/>
<line x1="697" y1="1061" x2="697" y2="1067"/><line x1="766" y1="1061" x2="766" y2="1067"/><line x1="835" y1="1061" x2="835" y2="1067"/><line x1="904" y1="1061" x2="904" y2="1067"/>
</g>
<g stroke-width="3">
<line x1="637" y1="1075" x2="673" y2="1075" stroke="#f03020"/>
<line x1="637" y1="1095" x2="673" y2="1095" stroke="#f77a45"/>
<line x1="637" y1="1114" x2="673" y2="1114" stroke="#6aaee0"/>
<line x1="637" y1="1134" x2="673" y2="1134" stroke="#2f6ec0"/>
<line x1="637" y1="1154" x2="673" y2="1154" stroke="#111"/>
</g>
<g class="b" font-size="15" fill="#111">
<text x="677" y="1080">2.5 kPa</text><text x="677" y="1100">2 kPa</text><text x="677" y="1119">0.6 kPa</text><text x="677" y="1139">0.5 kPa</text><text x="677" y="1159">0 kPa</text>
</g>
<text x="918" y="1267" font-size="19" font-style="italic" fill="#333">Δ<tspan font-size="13" dy="5" font-style="normal" class="b">ne</tspan></text>
<g class="b" font-size="23" fill="#111">
<text x="624" y="1069" text-anchor="end">30</text><text x="624" y="1123" text-anchor="end">20</text><text x="624" y="1177" text-anchor="end">10</text><text x="624" y="1231" text-anchor="end">0</text><text x="624" y="1285" text-anchor="end">-10</text>
<text x="628" y="1301" text-anchor="middle">0</text><text x="697" y="1301" text-anchor="middle">9</text><text x="766" y="1301" text-anchor="middle">18</text><text x="835" y="1301" text-anchor="middle">27</text><text x="904" y="1301" text-anchor="middle">36</text><text x="971" y="1301" text-anchor="middle">45</text>
</g>
<g class="b" font-size="22.5" fill="#111">
<text x="800" y="1325" text-anchor="middle">Displacement (mm)</text>
<text transform="translate(586,1171) rotate(-90)" text-anchor="middle">Force (N)</text>
</g>
</svg>
</body></html>
